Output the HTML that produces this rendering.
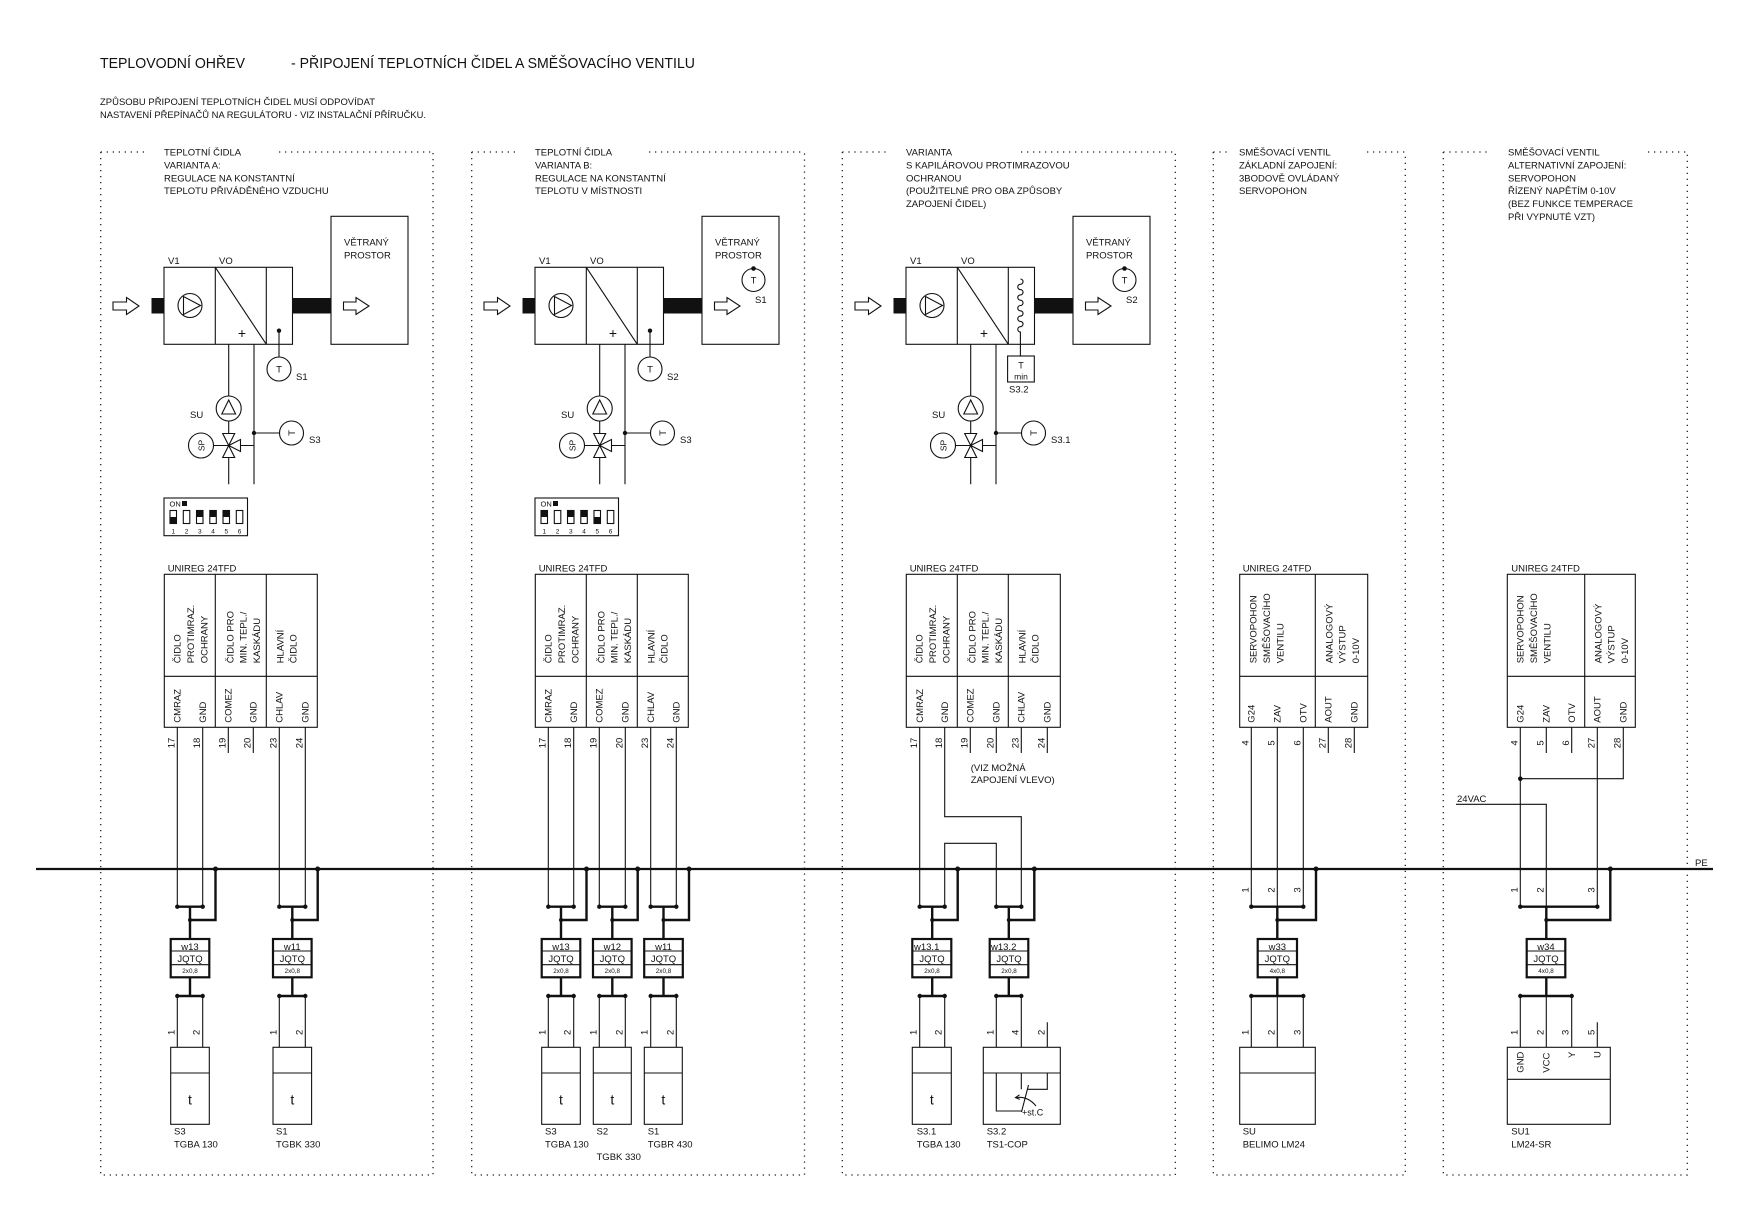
<!DOCTYPE html>
<html><head><meta charset="utf-8"><style>
html,body{margin:0;padding:0;background:#fff;}
svg{display:block;}
text{font-family:"Liberation Sans",sans-serif;fill:#111;font-size:9.5px;}
.t{stroke:#111;stroke-width:1.1;fill:none;}
.k{stroke:#111;stroke-width:2.4;fill:none;}
.d{stroke:#222;stroke-width:1.3;stroke-dasharray:1.3 4.7;fill:none;}
.f{fill:#111;stroke:none;}
.bx{fill:#fff;stroke:#111;stroke-width:2.2;}
</style></head><body>
<svg width="1743" height="1222" viewBox="0 0 1743 1222" xmlns="http://www.w3.org/2000/svg">
<rect width="1743" height="1222" fill="#fff"/>

<!-- titles -->
<text x="100" y="68" style="font-size:15px" textLength="145" lengthAdjust="spacingAndGlyphs">TEPLOVODNÍ OHŘEV</text>
<text x="291" y="68" style="font-size:15px" textLength="404" lengthAdjust="spacingAndGlyphs">- PŘIPOJENÍ TEPLOTNÍCH ČIDEL A SMĚŠOVACÍHO VENTILU</text>
<text x="100" y="105" textLength="275" lengthAdjust="spacingAndGlyphs">ZPŮSOBU PŘIPOJENÍ TEPLOTNÍCH ČIDEL MUSÍ ODPOVÍDAT</text>
<text x="100" y="118" textLength="326" lengthAdjust="spacingAndGlyphs">NASTAVENÍ PŘEPÍNAČŮ NA REGULÁTORU - VIZ INSTALAČNÍ PŘÍRUČKU.</text>

<!-- dotted panel frames -->
<path class="d" d="M100.7,152H148M279,152H433M100.7,152V1175H433V152"/>
<path class="d" d="M471.7,152H519M649,152H804.5M471.7,152V1175H804.5V152"/>
<path class="d" d="M842.3,152H887M1021,152H1175.3M842.3,152V1175H1175.3V152"/>
<path class="d" d="M1213.3,152H1227M1367,152H1405.3M1213.3,152V1175H1405.3V152"/>
<path class="d" d="M1443.3,152H1491M1648,152H1687.3M1443.3,152V1175H1687.3V152"/>

<!-- panel headings -->
<text x="164" y="155.5">TEPLOTNÍ ČIDLA</text>
<text x="164" y="168.4">VARIANTA A:</text>
<text x="164" y="181.3">REGULACE NA KONSTANTNÍ</text>
<text x="164" y="194.2">TEPLOTU PŘIVÁDĚNÉHO VZDUCHU</text>

<text x="535" y="155.5">TEPLOTNÍ ČIDLA</text>
<text x="535" y="168.4">VARIANTA B:</text>
<text x="535" y="181.3">REGULACE NA KONSTANTNÍ</text>
<text x="535" y="194.2">TEPLOTU V MÍSTNOSTI</text>

<text x="906" y="155.5">VARIANTA</text>
<text x="906" y="168.4">S KAPILÁROVOU PROTIMRAZOVOU</text>
<text x="906" y="181.3">OCHRANOU</text>
<text x="906" y="194.2">(POUŽITELNÉ PRO OBA ZPŮSOBY</text>
<text x="906" y="207.1">ZAPOJENÍ ČIDEL)</text>

<text x="1239" y="155.5">SMĚŠOVACÍ VENTIL</text>
<text x="1239" y="168.4">ZÁKLADNÍ ZAPOJENÍ:</text>
<text x="1239" y="181.3">3BODOVĚ OVLÁDANÝ</text>
<text x="1239" y="194.2">SERVOPOHON</text>

<text x="1508" y="155.5">SMĚŠOVACÍ VENTIL</text>
<text x="1508" y="168.4">ALTERNATIVNÍ ZAPOJENÍ:</text>
<text x="1508" y="181.3">SERVOPOHON</text>
<text x="1508" y="194.2">ŘÍZENÝ NAPĚTÍM 0-10V</text>
<text x="1508" y="207.1">(BEZ FUNKCE TEMPERACE</text>
<text x="1508" y="220">PŘI VYPNUTÉ VZT)</text>

<!-- ===== AHU PANEL 1 ===== -->
<g>
<g class="t">
<path d="M113,302H126.5V297.5L139,306L126.5,314.5V310H113Z" fill="#fff"/>
<rect x="164" y="267.3" width="128.5" height="77"/>
<path d="M215.3,267.3V344.3M266.3,267.3V344.3M215.3,267.3L266.3,344.3"/>
<circle cx="190" cy="305.5" r="12"/>
<path d="M183.5,296.5V314.5L200.5,305.5Z"/>
<rect x="331" y="216.3" width="77" height="128"/>
<path d="M343.5,302H356V297.5L369,306L356,314.5V310H343.5Z" fill="#fff"/>
<path d="M228.7,344.3V396M228.7,421V433.5M228.7,457.5V484.3M254,344.3V484.3M213.5,445.5H228.7M240.5,445.5H254M254,433H279.5"/>
<circle cx="228.7" cy="408.5" r="12.5"/>
<path d="M228.7,400L221.8,414H235.6Z"/>
<path d="M222.7,433.5H234.7L228.7,445.5ZM222.7,457.5H234.7L228.7,445.5ZM228.7,445.5L240.5,439.5V451.5Z" fill="#fff"/>
<circle cx="201" cy="445.5" r="12.5"/>
<circle cx="291.5" cy="433" r="12"/>
</g>
<rect x="151.5" y="298" width="12.5" height="15.5" class="f"/>
<rect x="292.5" y="298" width="38.5" height="15.5" class="f"/>
<circle cx="254" cy="433" r="2.2" class="f"/>
<text x="242" y="338" style="font-size:14px" text-anchor="middle">+</text>
<text x="344" y="245.5">VĚTRANÝ</text>
<text x="344" y="258.5">PROSTOR</text>
<text x="168" y="264">V1</text>
<text x="219" y="264">VO</text>
<text x="190" y="418">SU</text>
<text transform="translate(204.3,445.5) rotate(-90)" text-anchor="middle" style="font-size:8.5px">SP</text>
<text transform="translate(294.8,433) rotate(-90)" text-anchor="middle">T</text>
<text x="309" y="443">S3</text>
<!-- S1 supply sensor -->
<circle cx="279" cy="330.7" r="2.2" class="f"/>
<path class="t" d="M279,330.7V357"/>
<circle class="t" cx="279" cy="369" r="12"/>
<text x="279" y="372.5" text-anchor="middle">T</text>
<text x="296" y="380">S1</text>
<!-- DIP -->
<rect class="t" x="164" y="498" width="83.5" height="37.7"/>
<text x="169.5" y="506.5" style="font-size:7.5px">ON</text>
<rect class="f" x="182" y="501" width="5" height="5"/>
<g class="t"><rect x="170" y="510.5" width="6.5" height="13"/><rect x="183.3" y="510.5" width="6.5" height="13"/><rect x="196.5" y="510.5" width="6.5" height="13"/><rect x="209.8" y="510.5" width="6.5" height="13"/><rect x="223" y="510.5" width="6.5" height="13"/><rect x="236.3" y="510.5" width="6.5" height="13"/></g>
<g class="f"><rect x="170" y="517" width="6.5" height="6.5"/><rect x="196.5" y="510.5" width="6.5" height="6.5"/><rect x="209.8" y="510.5" width="6.5" height="6.5"/><rect x="223" y="510.5" width="6.5" height="6.5"/></g>
<g text-anchor="middle"><text x="173.3" y="533.5" style="font-size:6.5px">1</text><text x="186.5" y="533.5" style="font-size:6.5px">2</text><text x="199.8" y="533.5" style="font-size:6.5px">3</text><text x="213" y="533.5" style="font-size:6.5px">4</text><text x="226.3" y="533.5" style="font-size:6.5px">5</text><text x="239.5" y="533.5" style="font-size:6.5px">6</text></g>
</g>

<!-- ===== AHU PANEL 2 ===== -->
<g transform="translate(371,0)">
<g class="t">
<path d="M113,302H126.5V297.5L139,306L126.5,314.5V310H113Z" fill="#fff"/>
<rect x="164" y="267.3" width="128.5" height="77"/>
<path d="M215.3,267.3V344.3M266.3,267.3V344.3M215.3,267.3L266.3,344.3"/>
<circle cx="190" cy="305.5" r="12"/>
<path d="M183.5,296.5V314.5L200.5,305.5Z"/>
<rect x="331" y="216.3" width="77" height="128"/>
<path d="M343.5,302H356V297.5L369,306L356,314.5V310H343.5Z" fill="#fff"/>
<path d="M228.7,344.3V396M228.7,421V433.5M228.7,457.5V484.3M254,344.3V484.3M213.5,445.5H228.7M240.5,445.5H254M254,433H279.5"/>
<circle cx="228.7" cy="408.5" r="12.5"/>
<path d="M228.7,400L221.8,414H235.6Z"/>
<path d="M222.7,433.5H234.7L228.7,445.5ZM222.7,457.5H234.7L228.7,445.5ZM228.7,445.5L240.5,439.5V451.5Z" fill="#fff"/>
<circle cx="201" cy="445.5" r="12.5"/>
<circle cx="291.5" cy="433" r="12"/>
<circle cx="382.5" cy="280" r="11.5"/>
</g>
<rect x="151.5" y="298" width="12.5" height="15.5" class="f"/>
<rect x="292.5" y="298" width="38.5" height="15.5" class="f"/>
<circle cx="254" cy="433" r="2.2" class="f"/>
<circle cx="382.5" cy="268.5" r="2.3" class="f"/>
<text x="382.5" y="283.5" text-anchor="middle">T</text>
<text x="384" y="303">S1</text>
<text x="242" y="338" style="font-size:14px" text-anchor="middle">+</text>
<text x="344" y="245.5">VĚTRANÝ</text>
<text x="344" y="258.5">PROSTOR</text>
<text x="168" y="264">V1</text>
<text x="219" y="264">VO</text>
<text x="190" y="418">SU</text>
<text transform="translate(204.3,445.5) rotate(-90)" text-anchor="middle" style="font-size:8.5px">SP</text>
<text transform="translate(294.8,433) rotate(-90)" text-anchor="middle">T</text>
<text x="309" y="443">S3</text>
<circle cx="279" cy="330.7" r="2.2" class="f"/>
<path class="t" d="M279,330.7V357"/>
<circle class="t" cx="279" cy="369" r="12"/>
<text x="279" y="372.5" text-anchor="middle">T</text>
<text x="296" y="380">S2</text>
<rect class="t" x="164" y="498" width="83.5" height="37.7"/>
<text x="169.5" y="506.5" style="font-size:7.5px">ON</text>
<rect class="f" x="182" y="501" width="5" height="5"/>
<g class="t"><rect x="170" y="510.5" width="6.5" height="13"/><rect x="183.3" y="510.5" width="6.5" height="13"/><rect x="196.5" y="510.5" width="6.5" height="13"/><rect x="209.8" y="510.5" width="6.5" height="13"/><rect x="223" y="510.5" width="6.5" height="13"/><rect x="236.3" y="510.5" width="6.5" height="13"/></g>
<g class="f"><rect x="170" y="510.5" width="6.5" height="6.5"/><rect x="196.5" y="510.5" width="6.5" height="6.5"/><rect x="209.8" y="510.5" width="6.5" height="6.5"/><rect x="223" y="517" width="6.5" height="6.5"/></g>
<g text-anchor="middle"><text x="173.3" y="533.5" style="font-size:6.5px">1</text><text x="186.5" y="533.5" style="font-size:6.5px">2</text><text x="199.8" y="533.5" style="font-size:6.5px">3</text><text x="213" y="533.5" style="font-size:6.5px">4</text><text x="226.3" y="533.5" style="font-size:6.5px">5</text><text x="239.5" y="533.5" style="font-size:6.5px">6</text></g>
</g>

<!-- ===== AHU PANEL 3 ===== -->
<g transform="translate(742,0)">
<g class="t">
<path d="M113,302H126.5V297.5L139,306L126.5,314.5V310H113Z" fill="#fff"/>
<rect x="164" y="267.3" width="128.5" height="77"/>
<path d="M215.3,267.3V344.3M266.3,267.3V344.3M215.3,267.3L266.3,344.3"/>
<circle cx="190" cy="305.5" r="12"/>
<path d="M183.5,296.5V314.5L200.5,305.5Z"/>
<rect x="331" y="216.3" width="77" height="128"/>
<path d="M343.5,302H356V297.5L369,306L356,314.5V310H343.5Z" fill="#fff"/>
<path d="M228.7,344.3V396M228.7,421V433.5M228.7,457.5V484.3M254,344.3V484.3M213.5,445.5H228.7M240.5,445.5H254M254,433H279.5"/>
<circle cx="228.7" cy="408.5" r="12.5"/>
<path d="M228.7,400L221.8,414H235.6Z"/>
<path d="M222.7,433.5H234.7L228.7,445.5ZM222.7,457.5H234.7L228.7,445.5ZM228.7,445.5L240.5,439.5V451.5Z" fill="#fff"/>
<circle cx="201" cy="445.5" r="12.5"/>
<circle cx="291.5" cy="433" r="12"/>
<circle cx="382.5" cy="280" r="11.5"/>
<path d="M278.4,279a2.65,2.65 0 0 1 0,5.3a2.65,2.65 0 0 0 0,5.3a2.65,2.65 0 0 1 0,5.3a2.65,2.65 0 0 0 0,5.3a2.65,2.65 0 0 1 0,5.3a2.65,2.65 0 0 0 0,5.3a2.65,2.65 0 0 1 0,5.3a2.65,2.65 0 0 0 0,5.3a2.65,2.65 0 0 1 0,5.3a2.65,2.65 0 0 0 0,5.3V356"/>
<rect x="265.6" y="356" width="26.7" height="26"/>
</g>
<rect x="151.5" y="298" width="12.5" height="15.5" class="f"/>
<rect x="292.5" y="298" width="38.5" height="15.5" class="f"/>
<circle cx="254" cy="433" r="2.2" class="f"/>
<circle cx="382.5" cy="268.5" r="2.3" class="f"/>
<text x="382.5" y="283.5" text-anchor="middle">T</text>
<text x="384" y="303">S2</text>
<text x="279" y="368.5" text-anchor="middle" style="font-size:9px">T</text>
<text x="279" y="379.5" text-anchor="middle" style="font-size:8.5px">min</text>
<text x="267" y="392.5">S3.2</text>
<text x="242" y="338" style="font-size:14px" text-anchor="middle">+</text>
<text x="344" y="245.5">VĚTRANÝ</text>
<text x="344" y="258.5">PROSTOR</text>
<text x="168" y="264">V1</text>
<text x="219" y="264">VO</text>
<text x="190" y="418">SU</text>
<text transform="translate(204.3,445.5) rotate(-90)" text-anchor="middle" style="font-size:8.5px">SP</text>
<text transform="translate(294.8,433) rotate(-90)" text-anchor="middle">T</text>
<text x="309" y="443">S3.1</text>
</g>

<!-- ===== PE LINE ===== -->
<path d="M36,869H1713" stroke="#111" stroke-width="2.3"/>
<text x="1695" y="866">PE</text>

<!-- ===== UNIREG PANEL 1 ===== -->
<text x="167.7" y="571.7">UNIREG 24TFD</text>
<rect class="t" x="164.3" y="574.3" width="153" height="153"/>
<path class="t" d="M164.3,676.3H317.3M215.3,574.3V727.3M266.3,574.3V727.3"/>
<text transform="translate(180.7,663.3) rotate(-90)">ČIDLO</text>
<text transform="translate(194,663.3) rotate(-90)">PROTIMRAZ.</text>
<text transform="translate(207.3,663.3) rotate(-90)">OCHRANY</text>
<text transform="translate(233.3,663.3) rotate(-90)">ČIDLO PRO</text>
<text transform="translate(246.7,663.3) rotate(-90)">MIN. TEPL./</text>
<text transform="translate(260,663.3) rotate(-90)">KASKÁDU</text>
<text transform="translate(283.3,663.3) rotate(-90)">HLAVNÍ</text>
<text transform="translate(296.7,663.3) rotate(-90)">ČIDLO</text>
<text transform="translate(180.7,722.7) rotate(-90)">CMRAZ</text>
<text transform="translate(206.1,722.7) rotate(-90)">GND</text>
<text transform="translate(231.7,722.7) rotate(-90)">COMEZ</text>
<text transform="translate(256.7,722.7) rotate(-90)">GND</text>
<text transform="translate(282.7,722.7) rotate(-90)">CHLAV</text>
<text transform="translate(308.7,722.7) rotate(-90)">GND</text>
<g text-anchor="middle">
<text transform="translate(174.5,743) rotate(-90)">17</text>
<text transform="translate(199.9,743) rotate(-90)">18</text>
<text transform="translate(225.5,743) rotate(-90)">19</text>
<text transform="translate(250.5,743) rotate(-90)">20</text>
<text transform="translate(276.5,743) rotate(-90)">23</text>
<text transform="translate(302.5,743) rotate(-90)">24</text>
</g>
<path class="t" d="M177.3,727.3V906.7M202.7,727.3V906.7M228.3,727.3V753M253.3,727.3V753M279.3,727.3V906.7M305.3,727.3V906.7"/>

<!-- ===== UNIREG PANEL 2 ===== -->
<text x="538.7" y="571.7">UNIREG 24TFD</text>
<rect class="t" x="535.3" y="574.3" width="153" height="153"/>
<path class="t" d="M535.3,676.3H688.3M586.3,574.3V727.3M637.3,574.3V727.3"/>
<text transform="translate(551.7,663.3) rotate(-90)">ČIDLO</text>
<text transform="translate(565,663.3) rotate(-90)">PROTIMRAZ.</text>
<text transform="translate(578.3,663.3) rotate(-90)">OCHRANY</text>
<text transform="translate(604.3,663.3) rotate(-90)">ČIDLO PRO</text>
<text transform="translate(617.7,663.3) rotate(-90)">MIN. TEPL./</text>
<text transform="translate(631,663.3) rotate(-90)">KASKÁDU</text>
<text transform="translate(654.3,663.3) rotate(-90)">HLAVNÍ</text>
<text transform="translate(667.7,663.3) rotate(-90)">ČIDLO</text>
<text transform="translate(551.7,722.7) rotate(-90)">CMRAZ</text>
<text transform="translate(577.1,722.7) rotate(-90)">GND</text>
<text transform="translate(602.7,722.7) rotate(-90)">COMEZ</text>
<text transform="translate(628.7,722.7) rotate(-90)">GND</text>
<text transform="translate(654.1,722.7) rotate(-90)">CHLAV</text>
<text transform="translate(679.7,722.7) rotate(-90)">GND</text>
<g text-anchor="middle">
<text transform="translate(545.5,743) rotate(-90)">17</text>
<text transform="translate(570.9,743) rotate(-90)">18</text>
<text transform="translate(596.5,743) rotate(-90)">19</text>
<text transform="translate(622.5,743) rotate(-90)">20</text>
<text transform="translate(647.9,743) rotate(-90)">23</text>
<text transform="translate(673.5,743) rotate(-90)">24</text>
</g>
<path class="t" d="M548.3,727.3V906.7M573.7,727.3V906.7M599.3,727.3V906.7M625.3,727.3V906.7M650.7,727.3V906.7M676.3,727.3V906.7"/>

<!-- ===== UNIREG PANEL 3 ===== -->
<text x="909.7" y="571.7">UNIREG 24TFD</text>
<rect class="t" x="906.3" y="574.3" width="154" height="153"/>
<path class="t" d="M906.3,676.3H1060.3M957.3,574.3V727.3M1008.3,574.3V727.3"/>
<text transform="translate(922.7,663.3) rotate(-90)">ČIDLO</text>
<text transform="translate(936,663.3) rotate(-90)">PROTIMRAZ.</text>
<text transform="translate(949.3,663.3) rotate(-90)">OCHRANY</text>
<text transform="translate(975.3,663.3) rotate(-90)">ČIDLO PRO</text>
<text transform="translate(988.7,663.3) rotate(-90)">MIN. TEPL./</text>
<text transform="translate(1002,663.3) rotate(-90)">KASKÁDU</text>
<text transform="translate(1025.3,663.3) rotate(-90)">HLAVNÍ</text>
<text transform="translate(1038.7,663.3) rotate(-90)">ČIDLO</text>
<text transform="translate(923.1,722.7) rotate(-90)">CMRAZ</text>
<text transform="translate(948.1,722.7) rotate(-90)">GND</text>
<text transform="translate(973.7,722.7) rotate(-90)">COMEZ</text>
<text transform="translate(999.7,722.7) rotate(-90)">GND</text>
<text transform="translate(1024.7,722.7) rotate(-90)">CHLAV</text>
<text transform="translate(1050.7,722.7) rotate(-90)">GND</text>
<g text-anchor="middle">
<text transform="translate(916.9,743) rotate(-90)">17</text>
<text transform="translate(941.9,743) rotate(-90)">18</text>
<text transform="translate(967.5,743) rotate(-90)">19</text>
<text transform="translate(993.5,743) rotate(-90)">20</text>
<text transform="translate(1018.5,743) rotate(-90)">23</text>
<text transform="translate(1044.5,743) rotate(-90)">24</text>
</g>
<path class="t" d="M919.7,727.3V906.7M944.7,727.3V816.7H1021.3V906.7M944.7,906.7V843.3H996.3V906.7M970.3,727.3V753M996.3,727.3V753M1021.3,727.3V753M1047.3,727.3V753"/>
<text x="970.7" y="771">(VIZ MOŽNÁ</text>
<text x="970.7" y="783">ZAPOJENÍ VLEVO)</text>

<!-- ===== UNIREG PANEL 4 ===== -->
<text x="1242.7" y="571.7">UNIREG 24TFD</text>
<rect class="t" x="1239.7" y="574.3" width="128" height="153"/>
<path class="t" d="M1239.7,676.3H1367.7M1315.3,574.3V727.3"/>
<text transform="translate(1256.7,663.3) rotate(-90)">SERVOPOHON</text>
<text transform="translate(1270,663.3) rotate(-90)">SMĚŠOVACÍHO</text>
<text transform="translate(1283.3,663.3) rotate(-90)">VENTILU</text>
<text transform="translate(1332.3,663.3) rotate(-90)">ANALOGOVÝ</text>
<text transform="translate(1345.7,663.3) rotate(-90)">VÝSTUP</text>
<text transform="translate(1359,663.3) rotate(-90)">0-10V</text>
<text transform="translate(1254.7,722.7) rotate(-90)">G24</text>
<text transform="translate(1280.7,722.7) rotate(-90)">ZAV</text>
<text transform="translate(1306.7,722.7) rotate(-90)">OTV</text>
<text transform="translate(1331.7,722.7) rotate(-90)">AOUT</text>
<text transform="translate(1357.7,722.7) rotate(-90)">GND</text>
<g text-anchor="middle">
<text transform="translate(1248.5,743) rotate(-90)">4</text>
<text transform="translate(1274.5,743) rotate(-90)">5</text>
<text transform="translate(1300.5,743) rotate(-90)">6</text>
<text transform="translate(1325.5,743) rotate(-90)">27</text>
<text transform="translate(1351.5,743) rotate(-90)">28</text>
<text transform="translate(1248.3,890) rotate(-90)">1</text>
<text transform="translate(1274.3,890) rotate(-90)">2</text>
<text transform="translate(1300.3,890) rotate(-90)">3</text>
</g>
<path class="t" d="M1251.3,727.3V906.7M1277.3,727.3V906.7M1303.3,727.3V906.7M1328.3,727.3V753M1354.3,727.3V753"/>

<!-- ===== UNIREG PANEL 5 ===== -->
<text x="1511.3" y="571.7">UNIREG 24TFD</text>
<rect class="t" x="1507.3" y="574.3" width="128" height="153"/>
<path class="t" d="M1507.3,676.3H1635.3M1584.7,574.3V727.3"/>
<text transform="translate(1523.7,663.3) rotate(-90)">SERVOPOHON</text>
<text transform="translate(1537,663.3) rotate(-90)">SMĚŠOVACÍHO</text>
<text transform="translate(1550.3,663.3) rotate(-90)">VENTILU</text>
<text transform="translate(1601.4,663.3) rotate(-90)">ANALOGOVÝ</text>
<text transform="translate(1614.7,663.3) rotate(-90)">VÝSTUP</text>
<text transform="translate(1628,663.3) rotate(-90)">0-10V</text>
<text transform="translate(1523.7,722.7) rotate(-90)">G24</text>
<text transform="translate(1549.7,722.7) rotate(-90)">ZAV</text>
<text transform="translate(1575.1,722.7) rotate(-90)">OTV</text>
<text transform="translate(1600.7,722.7) rotate(-90)">AOUT</text>
<text transform="translate(1626.7,722.7) rotate(-90)">GND</text>
<g text-anchor="middle">
<text transform="translate(1517.5,743) rotate(-90)">4</text>
<text transform="translate(1543.5,743) rotate(-90)">5</text>
<text transform="translate(1568.9,743) rotate(-90)">6</text>
<text transform="translate(1594.5,743) rotate(-90)">27</text>
<text transform="translate(1620.5,743) rotate(-90)">28</text>
<text transform="translate(1517.3,890) rotate(-90)">1</text>
<text transform="translate(1543.3,890) rotate(-90)">2</text>
<text transform="translate(1594.3,890) rotate(-90)">3</text>
</g>
<path class="t" d="M1520.3,727.3V906.7M1546.3,727.3V753M1571.7,727.3V753M1597.3,727.3V906.7M1623.3,727.3V778.7H1520.3M1456,804.3H1546.3V906.7"/>
<circle class="f" cx="1520.3" cy="778.7" r="2.3"/>
<text x="1457" y="802">24VAC</text>

<!-- ===== CABLE GROUPS ===== -->
<!-- P1G1 -->
<path class="k" d="M177.3,906.7H202.7M190,906.7V939M190,920H215.5V869M190,977.3V996M177.3,996H202.7"/>
<g class="f"><circle cx="177.3" cy="906.7" r="2.2"/><circle cx="202.7" cy="906.7" r="2.2"/><circle cx="190" cy="920" r="2"/><circle cx="215.5" cy="869" r="2.5"/><circle cx="177.3" cy="996" r="2.2"/><circle cx="202.7" cy="996" r="2.2"/></g>
<rect class="bx" x="170.7" y="939" width="38.6" height="38.3"/>
<path class="t" d="M170.7,951H209.3M170.7,964.7H209.3"/>
<text x="190" y="949.8" text-anchor="middle">w13</text>
<text x="190" y="961.8" text-anchor="middle">JQTQ</text>
<text x="190" y="973.2" text-anchor="middle" style="font-size:6.3px">2x0,8</text>
<path class="t" d="M177.3,996V1047.3M202.7,996V1047.3"/>
<text transform="translate(174.3,1032.3) rotate(-90)" text-anchor="middle">1</text>
<text transform="translate(199.7,1032.3) rotate(-90)" text-anchor="middle">2</text>
<rect class="t" x="170.7" y="1047.3" width="38.6" height="77"/>
<path class="t" d="M170.7,1073H209.3"/>
<text x="190" y="1104.5" text-anchor="middle" style="font-size:14px">t</text>
<text x="174" y="1134.5">S3</text>
<text x="174" y="1147.5">TGBA 130</text>

<!-- P1G2 -->
<path class="k" d="M279.3,906.7H305.3M292.3,906.7V939M292.3,920H317.7V869M292.3,977.3V996M279.3,996H305.3"/>
<g class="f"><circle cx="279.3" cy="906.7" r="2.2"/><circle cx="305.3" cy="906.7" r="2.2"/><circle cx="292.3" cy="920" r="2"/><circle cx="317.7" cy="869" r="2.5"/><circle cx="279.3" cy="996" r="2.2"/><circle cx="305.3" cy="996" r="2.2"/></g>
<rect class="bx" x="273" y="939" width="38.6" height="38.3"/>
<path class="t" d="M273,951H311.6M273,964.7H311.6"/>
<text x="292.3" y="949.8" text-anchor="middle">w11</text>
<text x="292.3" y="961.8" text-anchor="middle">JQTQ</text>
<text x="292.3" y="973.2" text-anchor="middle" style="font-size:6.3px">2x0,8</text>
<path class="t" d="M279.3,996V1047.3M305.3,996V1047.3"/>
<text transform="translate(276.3,1032.3) rotate(-90)" text-anchor="middle">1</text>
<text transform="translate(302.3,1032.3) rotate(-90)" text-anchor="middle">2</text>
<rect class="t" x="273" y="1047.3" width="38.6" height="77"/>
<path class="t" d="M273,1073H311.6"/>
<text x="292.3" y="1104.5" text-anchor="middle" style="font-size:14px">t</text>
<text x="276" y="1134.5">S1</text>
<text x="276" y="1147.5">TGBK 330</text>

<!-- P2G1 -->
<path class="k" d="M548.3,906.7H573.7M561,906.7V939M561,920H586.5V869M561,977.3V996M548.3,996H573.7"/>
<g class="f"><circle cx="548.3" cy="906.7" r="2.2"/><circle cx="573.7" cy="906.7" r="2.2"/><circle cx="561" cy="920" r="2"/><circle cx="586.5" cy="869" r="2.5"/><circle cx="548.3" cy="996" r="2.2"/><circle cx="573.7" cy="996" r="2.2"/></g>
<rect class="bx" x="541.7" y="939" width="38.6" height="38.3"/>
<path class="t" d="M541.7,951H580.3M541.7,964.7H580.3"/>
<text x="561" y="949.8" text-anchor="middle">w13</text>
<text x="561" y="961.8" text-anchor="middle">JQTQ</text>
<text x="561" y="973.2" text-anchor="middle" style="font-size:6.3px">2x0,8</text>
<path class="t" d="M548.3,996V1047.3M573.7,996V1047.3"/>
<text transform="translate(545.3,1032.3) rotate(-90)" text-anchor="middle">1</text>
<text transform="translate(570.7,1032.3) rotate(-90)" text-anchor="middle">2</text>
<rect class="t" x="541.7" y="1047.3" width="38.6" height="77"/>
<path class="t" d="M541.7,1073H580.3"/>
<text x="561" y="1104.5" text-anchor="middle" style="font-size:14px">t</text>
<text x="545" y="1134.5">S3</text>
<text x="545" y="1147.5">TGBA 130</text>

<!-- P2G2 -->
<path class="k" d="M599.3,906.7H625.3M612.3,906.7V939M612.3,920H637.7V869M612.3,977.3V996M599.3,996H625.3"/>
<g class="f"><circle cx="599.3" cy="906.7" r="2.2"/><circle cx="625.3" cy="906.7" r="2.2"/><circle cx="612.3" cy="920" r="2"/><circle cx="637.7" cy="869" r="2.5"/><circle cx="599.3" cy="996" r="2.2"/><circle cx="625.3" cy="996" r="2.2"/></g>
<rect class="bx" x="593" y="939" width="38.6" height="38.3"/>
<path class="t" d="M593,951H631.6M593,964.7H631.6"/>
<text x="612.3" y="949.8" text-anchor="middle">w12</text>
<text x="612.3" y="961.8" text-anchor="middle">JQTQ</text>
<text x="612.3" y="973.2" text-anchor="middle" style="font-size:6.3px">2x0,8</text>
<path class="t" d="M599.3,996V1047.3M625.3,996V1047.3"/>
<text transform="translate(596.3,1032.3) rotate(-90)" text-anchor="middle">1</text>
<text transform="translate(622.3,1032.3) rotate(-90)" text-anchor="middle">2</text>
<rect class="t" x="593.3" y="1047.3" width="38" height="77"/>
<path class="t" d="M593.3,1073H631.3"/>
<text x="612.3" y="1104.5" text-anchor="middle" style="font-size:14px">t</text>
<text x="596.5" y="1134.5">S2</text>
<text x="596.5" y="1160">TGBK 330</text>

<!-- P2G3 -->
<path class="k" d="M650.7,906.7H676.3M663.5,906.7V939M663.5,920H689V869M663.5,977.3V996M650.7,996H676.3"/>
<g class="f"><circle cx="650.7" cy="906.7" r="2.2"/><circle cx="676.3" cy="906.7" r="2.2"/><circle cx="663.5" cy="920" r="2"/><circle cx="689" cy="869" r="2.5"/><circle cx="650.7" cy="996" r="2.2"/><circle cx="676.3" cy="996" r="2.2"/></g>
<rect class="bx" x="644.2" y="939" width="38.6" height="38.3"/>
<path class="t" d="M644.2,951H682.8M644.2,964.7H682.8"/>
<text x="663.5" y="949.8" text-anchor="middle">w11</text>
<text x="663.5" y="961.8" text-anchor="middle">JQTQ</text>
<text x="663.5" y="973.2" text-anchor="middle" style="font-size:6.3px">2x0,8</text>
<path class="t" d="M650.7,996V1047.3M676.3,996V1047.3"/>
<text transform="translate(647.7,1032.3) rotate(-90)" text-anchor="middle">1</text>
<text transform="translate(673.3,1032.3) rotate(-90)" text-anchor="middle">2</text>
<rect class="t" x="644.3" y="1047.3" width="38" height="77"/>
<path class="t" d="M644.3,1073H682.3"/>
<text x="663.3" y="1104.5" text-anchor="middle" style="font-size:14px">t</text>
<text x="647.7" y="1134.5">S1</text>
<text x="647.7" y="1147.5">TGBR 430</text>

<!-- P3G1 -->
<path class="k" d="M919.7,906.7H944.7M932.2,906.7V939M932.2,920H957.7V869M932.2,977.3V996M919.7,996H944.7"/>
<g class="f"><circle cx="919.7" cy="906.7" r="2.2"/><circle cx="944.7" cy="906.7" r="2.2"/><circle cx="932.2" cy="920" r="2"/><circle cx="957.7" cy="869" r="2.5"/><circle cx="919.7" cy="996" r="2.2"/><circle cx="944.7" cy="996" r="2.2"/></g>
<rect class="bx" x="912.3" y="939" width="39" height="38.3"/>
<path class="t" d="M912.3,951H951.3M912.3,964.7H951.3"/>
<text x="914" y="949.8">w13.1</text>
<text x="932" y="961.8" text-anchor="middle">JQTQ</text>
<text x="932" y="973.2" text-anchor="middle" style="font-size:6.3px">2x0,8</text>
<path class="t" d="M919.7,996V1047.3M944.7,996V1047.3"/>
<text transform="translate(916.7,1032.3) rotate(-90)" text-anchor="middle">1</text>
<text transform="translate(941.7,1032.3) rotate(-90)" text-anchor="middle">2</text>
<rect class="t" x="912.3" y="1047.3" width="39" height="77"/>
<path class="t" d="M912.3,1073H951.3"/>
<text x="931.8" y="1104.5" text-anchor="middle" style="font-size:14px">t</text>
<text x="916.7" y="1134.5">S3.1</text>
<text x="916.7" y="1147.5">TGBA 130</text>

<!-- P3G2 -->
<path class="k" d="M996.3,906.7H1021.3M1008.8,906.7V939M1008.8,920H1034.3V869M1008.8,977.3V996M996.3,996H1021.3"/>
<g class="f"><circle cx="996.3" cy="906.7" r="2.2"/><circle cx="1021.3" cy="906.7" r="2.2"/><circle cx="1008.8" cy="920" r="2"/><circle cx="1034.3" cy="869" r="2.5"/><circle cx="996.3" cy="996" r="2.2"/><circle cx="1021.3" cy="996" r="2.2"/></g>
<rect class="bx" x="989.7" y="939" width="38.6" height="38.3"/>
<path class="t" d="M989.7,951H1028.3M989.7,964.7H1028.3"/>
<text x="991" y="949.8">w13.2</text>
<text x="1009" y="961.8" text-anchor="middle">JQTQ</text>
<text x="1009" y="973.2" text-anchor="middle" style="font-size:6.3px">2x0,8</text>
<path class="t" d="M996.3,996V1047.3M1021.3,996V1047.3M1047.3,1022.3V1047.3"/>
<text transform="translate(993.3,1032.3) rotate(-90)" text-anchor="middle">1</text>
<text transform="translate(1018.3,1032.3) rotate(-90)" text-anchor="middle">4</text>
<text transform="translate(1044.3,1032.3) rotate(-90)" text-anchor="middle">2</text>
<rect class="t" x="983.3" y="1047.3" width="77" height="77"/>
<path class="t" d="M983.3,1073H1060.3M996.3,1073V1111H1021.7M1021.3,1073V1089.3M1047.3,1073V1089.3H1027.7M1028.5,1085L1021.5,1112"/>
<path class="t" d="M1016,1097.5Q1028,1096 1036,1106"/>
<path class="t" d="M1019.5,1094.8L1015.5,1097.6L1019.8,1099.4"/>
<text x="1022" y="1115.5" style="font-size:9px">+st.C</text>
<text x="986.7" y="1134.5">S3.2</text>
<text x="986.7" y="1147.5">TS1-COP</text>

<!-- P4 group -->
<path class="k" d="M1251.3,906.7H1303.3M1277.3,906.7V939M1277.3,920H1316V869M1277.3,977.3V996M1251.3,996H1303.3"/>
<g class="f"><circle cx="1251.3" cy="906.7" r="2.2"/><circle cx="1303.3" cy="906.7" r="2.2"/><circle cx="1277.3" cy="920" r="2"/><circle cx="1316" cy="869" r="2.5"/><circle cx="1251.3" cy="996" r="2.2"/><circle cx="1303.3" cy="996" r="2.2"/></g>
<rect class="bx" x="1257.7" y="939" width="39.3" height="38.3"/>
<path class="t" d="M1257.7,951H1297M1257.7,964.7H1297"/>
<text x="1277.3" y="949.8" text-anchor="middle">w33</text>
<text x="1277.3" y="961.8" text-anchor="middle">JQTQ</text>
<text x="1277.3" y="973.2" text-anchor="middle" style="font-size:6.3px">4x0,8</text>
<path class="t" d="M1251.3,996V1047.3M1277.3,996V1047.3M1303.3,996V1047.3"/>
<g text-anchor="middle">
<text transform="translate(1248.3,1032.3) rotate(-90)">1</text>
<text transform="translate(1274.3,1032.3) rotate(-90)">2</text>
<text transform="translate(1300.3,1032.3) rotate(-90)">3</text>
</g>
<rect class="t" x="1239.7" y="1047.3" width="75.6" height="77"/>
<path class="t" d="M1239.7,1073H1315.3"/>
<text x="1242.7" y="1134.5">SU</text>
<text x="1242.7" y="1147.5">BELIMO LM24</text>

<!-- P5 group -->
<path class="k" d="M1520.3,906.7H1597.3M1546.3,906.7V939M1546.3,920H1610.3V869M1546.3,977.3V996M1520.3,996H1571.7"/>
<g class="f"><circle cx="1520.3" cy="906.7" r="2.2"/><circle cx="1597.3" cy="906.7" r="2.2"/><circle cx="1546.3" cy="920" r="2"/><circle cx="1610.3" cy="869" r="2.5"/><circle cx="1520.3" cy="996" r="2.2"/><circle cx="1571.7" cy="996" r="2.2"/></g>
<rect class="bx" x="1526.7" y="939" width="38.6" height="38.3"/>
<path class="t" d="M1526.7,951H1565.3M1526.7,964.7H1565.3"/>
<text x="1546" y="949.8" text-anchor="middle">w34</text>
<text x="1546" y="961.8" text-anchor="middle">JQTQ</text>
<text x="1546" y="973.2" text-anchor="middle" style="font-size:6.3px">4x0,8</text>
<path class="t" d="M1520.3,996V1047.3M1546.3,996V1047.3M1571.7,996V1047.3M1597.3,1022.3V1047.3"/>
<g text-anchor="middle">
<text transform="translate(1517.3,1032.3) rotate(-90)">1</text>
<text transform="translate(1543.3,1032.3) rotate(-90)">2</text>
<text transform="translate(1568.7,1032.3) rotate(-90)">3</text>
<text transform="translate(1594.3,1032.3) rotate(-90)">5</text>
</g>
<rect class="t" x="1507.3" y="1047.3" width="103" height="77"/>
<path class="t" d="M1507.3,1079.3H1610.3"/>
<text transform="translate(1523.7,1072.7) rotate(-90)">GND</text>
<text transform="translate(1549.7,1072.7) rotate(-90)">VCC</text>
<text transform="translate(1575.1,1058) rotate(-90)">Y</text>
<text transform="translate(1600.7,1058) rotate(-90)">U</text>
<text x="1511.3" y="1134.5">SU1</text>
<text x="1511.3" y="1147.5">LM24-SR</text>

</svg>
</body></html>
